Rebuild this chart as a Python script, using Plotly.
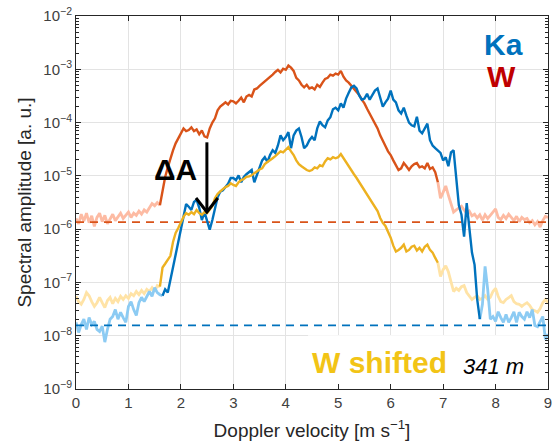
import numpy as np
import plotly.graph_objects as go

# Doppler velocity bins [m/s] (regular spectral grid, 0.05 m/s)
velocity = np.round(np.arange(181) * 0.05, 2)

# log10 of spectral amplitude
w_log10 = [
    -5.80, -5.90, -5.72, -5.85, -5.70, -5.88, -5.75, -5.95, -5.78, -5.70,
    -5.86, -5.74, -5.90, -5.80, -5.72, -5.84, -5.76, -5.70, -5.80, -5.74,
    -5.68, -5.78, -5.70, -5.74, -5.66, -5.72, -5.64, -5.68, -5.60, -5.52,
    -5.56, -5.50, -5.55, -5.27, -5.02, -4.84, -4.67, -4.52, -4.39, -4.30,
    -4.20, -4.11, -4.16, -4.14, -4.09, -4.16, -4.13, -4.22, -4.15, -4.26,
    -4.28, -4.11, -4.00, -3.92, -3.77, -3.70, -3.66, -3.62, -3.66, -3.59,
    -3.60, -3.64, -3.59, -3.53, -3.62, -3.51, -3.48, -3.51, -3.38, -3.36,
    -3.31, -3.27, -3.23, -3.18, -3.14, -3.10, -3.05, -3.01, -3.06, -2.99,
    -3.01, -2.93, -2.97, -3.03, -3.16, -3.21, -3.29, -3.34, -3.29, -3.36,
    -3.34, -3.38, -3.29, -3.33, -3.25, -3.18, -3.16, -3.10, -3.12, -3.08,
    -3.10, -3.03, -3.14, -3.21, -3.25, -3.31, -3.36, -3.42, -3.48, -3.57,
    -3.64, -3.74, -3.83, -3.92, -4.01, -4.11, -4.24, -4.33, -4.44, -4.54,
    -4.61, -4.71, -4.80, -4.89, -4.86, -4.76, -4.82, -4.89, -4.82, -4.78,
    -4.76, -4.84, -4.82, -4.86, -4.76, -4.87, -4.84, -4.93, -5.12, -5.42,
    -5.31, -5.19, -5.36, -5.53, -5.68, -5.64, -5.60, -5.57, -5.64, -5.70,
    -5.66, -5.75, -5.72, -5.79, -5.73, -5.83, -5.73, -5.80, -5.74, -5.68,
    -5.62, -5.78, -5.82, -5.74, -5.80, -5.72, -5.78, -5.84, -5.76, -5.86,
    -5.78, -5.82, -5.80, -5.88, -5.84, -5.92, -5.86, -5.96, -5.84, -5.76,
    -5.78,
]

ka_log10 = [
    -7.75, -7.94, -7.79, -7.69, -7.88, -7.66, -7.79, -7.73, -7.88, -7.92,
    -7.82, -8.12, -7.88, -7.69, -7.64, -7.51, -7.69, -7.56, -7.66, -7.75,
    -7.45, -7.36, -7.51, -7.62, -7.38, -7.28, -7.36, -7.25, -7.17, -7.26,
    -7.10, -7.19, -7.23, -7.25, -7.13, -7.19, -6.95, -6.72, -6.48, -6.26,
    -6.01, -5.77, -5.53, -5.58, -5.64, -5.49, -5.45, -5.60, -5.83, -5.68,
    -5.86, -6.01, -5.83, -5.64, -5.40, -5.30, -5.27, -5.21, -5.15, -5.04,
    -5.04, -5.08, -4.99, -5.12, -5.02, -4.97, -4.93, -4.89, -5.12, -4.99,
    -4.82, -4.71, -4.65, -4.74, -4.61, -4.52, -4.57, -4.43, -4.24, -4.33,
    -4.27, -4.18, -4.48, -4.24, -4.15, -4.11, -4.27, -4.48, -4.43, -4.33,
    -4.27, -4.33, -4.11, -3.98, -4.05, -4.09, -3.96, -3.90, -3.75, -3.72,
    -3.77, -3.64, -3.72, -3.55, -3.44, -3.34, -3.31, -3.36, -3.49, -3.57,
    -3.55, -3.46, -3.57, -3.49, -3.40, -3.36, -3.55, -3.70, -3.62, -3.55,
    -3.40, -3.57, -3.62, -3.77, -3.83, -3.72, -3.87, -4.00, -4.05, -4.07,
    -3.89, -4.15, -4.20, -4.11, -4.02, -4.33, -4.43, -4.48, -4.52, -4.57,
    -4.71, -4.65, -4.82, -4.56, -4.52, -5.08, -5.55, -5.73, -6.14, -5.51,
    -5.92, -6.44, -6.67, -7.32, -7.69, -7.41, -6.70, -7.13, -7.69, -7.64,
    -7.73, -7.55, -7.66, -7.75, -7.60, -7.75, -7.66, -7.55, -7.75, -7.56,
    -7.64, -7.69, -7.55, -7.66, -7.51, -7.81, -7.83, -7.73, -7.64, -8.07,
    -7.97,
]

w_shifted_log10 = [
    -7.26, -7.36, -7.41, -7.32, -7.19, -7.25, -7.36, -7.45, -7.38, -7.28,
    -7.38, -7.47, -7.34, -7.28, -7.40, -7.30, -7.36, -7.26, -7.32, -7.25,
    -7.30, -7.21, -7.25, -7.17, -7.23, -7.15, -7.21, -7.13, -7.17, -7.10,
    -7.17, -7.06, -7.08, -6.72, -6.65, -6.57, -6.50, -6.24, -6.07, -5.98,
    -5.86, -5.77, -5.70, -5.73, -5.68, -5.72, -5.64, -5.70, -5.73, -5.68,
    -5.70, -5.64, -5.57, -5.42, -5.34, -5.29, -5.25, -5.21, -5.19, -5.14,
    -5.17, -5.19, -5.12, -5.08, -5.06, -5.02, -5.01, -4.99, -4.95, -4.91,
    -4.88, -4.86, -4.78, -4.74, -4.71, -4.67, -4.63, -4.58, -4.54, -4.56,
    -4.50, -4.46, -4.54, -4.61, -4.71, -4.78, -4.82, -4.86, -4.89, -4.91,
    -4.89, -4.84, -4.86, -4.80, -4.82, -4.73, -4.67, -4.69, -4.65, -4.67,
    -4.65, -4.59, -4.67, -4.74, -4.82, -4.89, -4.97, -5.04, -5.12, -5.19,
    -5.27, -5.36, -5.43, -5.51, -5.58, -5.66, -5.79, -5.88, -5.94, -6.05,
    -6.16, -6.31, -6.42, -6.39, -6.35, -6.29, -6.42, -6.39, -6.33, -6.31,
    -6.40, -6.35, -6.42, -6.33, -6.29, -6.39, -6.44, -6.54, -6.63, -6.89,
    -6.76, -6.69, -6.80, -7.00, -7.17, -7.11, -7.15, -7.08, -7.06, -7.19,
    -7.26, -7.32, -7.28, -7.25, -7.32, -7.30, -7.25, -7.32, -7.28, -7.17,
    -7.11, -7.26, -7.36, -7.38, -7.32, -7.28, -7.25, -7.36, -7.40, -7.41,
    -7.45, -7.41, -7.38, -7.43, -7.51, -7.53, -7.56, -7.49, -7.38, -7.32,
    -7.38,
]

# noise levels (dashed lines)
w_noise_level = 1.35e-6
ka_noise_level = 1.56e-8

# velocity range where each spectrum is above noise (dark colour)
w_signal = (1.60, 6.90)
ka_signal = (1.65, 7.70)
w_shifted_signal = (1.60, 6.90)

# axis ticks
x_ticks = [0, 1, 2, 3, 4, 5, 6, 7, 8, 9]
y_decades = [1e-9, 1e-8, 1e-7, 1e-6, 1e-5, 1e-4, 1e-3, 1e-2]
y_tick_text = ["10<sup>−9</sup>", "10<sup>−8</sup>", "10<sup>−7</sup>", "10<sup>−6</sup>",
               "10<sup>−5</sup>", "10<sup>−4</sup>", "10<sup>−3</sup>", "10<sup>−2</sup>"]
y_minor = [m * d for d in y_decades[:-1] for m in range(2, 10)]

C_KA, C_KA_L = "#0072BD", "#8CCBF3"
C_W, C_W_L = "#D95319", "#FDBBA3"
C_Y, C_Y_L = "#EDB120", "#FFE3A6"

fig = go.Figure()


def add_series(vals_log, sig, dark, light):
    y = 10.0 ** np.array(vals_log)
    v = velocity
    left = v <= sig[0] + 1e-9
    right = v >= sig[1] - 1e-9
    mid = (v >= sig[0] - 1e-9) & (v <= sig[1] + 1e-9)
    fig.add_trace(go.Scatter(x=v[left], y=y[left], mode="lines",
                             line=dict(color=light, width=2.8), hoverinfo="skip"))
    fig.add_trace(go.Scatter(x=v[right], y=y[right], mode="lines",
                             line=dict(color=light, width=2.8), hoverinfo="skip"))
    return v[mid], y[mid], dark


# light (noise) segments first
segs = [
    add_series(w_log10, w_signal, C_W, C_W_L),
    add_series(w_shifted_log10, w_shifted_signal, C_Y, C_Y_L),
    add_series(ka_log10, ka_signal, C_KA, C_KA_L),
]

# dashed noise levels
fig.add_trace(go.Scatter(x=[0, 9], y=[w_noise_level, w_noise_level], mode="lines",
                         line=dict(color=C_W, width=1.8, dash="8px,6px")))
fig.add_trace(go.Scatter(x=[0, 9], y=[ka_noise_level, ka_noise_level], mode="lines",
                         line=dict(color=C_KA, width=1.8, dash="8px,6px")))

# dark signal segments
for vx, vy, col in [segs[0], segs[2], segs[1]]:
    fig.add_trace(go.Scatter(x=vx, y=vy, mode="lines",
                             line=dict(color=col, width=2.4), hoverinfo="skip"))

# invisible trace so the minor-tick overlay axis is drawn
fig.add_trace(go.Scatter(x=[0, 9], y=[w_noise_level, w_noise_level], yaxis="y2",
                         mode="lines", line=dict(width=0), opacity=0, hoverinfo="skip"))

L, R, T, B = 76, 552, 15, 390
W_, H_ = R - L, B - T


def px(x):
    return (x - L) / W_


def py(y):
    return (B - y) / H_


FONT = "Liberation Sans, Arial, sans-serif"

axis_common = dict(
    showline=True, linecolor="#262626", linewidth=1, mirror="ticks",
    ticks="inside", ticklen=5, tickcolor="#262626",
    showgrid=True, gridcolor="#E3E3E3", gridwidth=1, zeroline=False,
    tickfont=dict(size=15, color="#404040", family=FONT),
)

fig.update_layout(
    width=557, height=442,
    margin=dict(l=L, r=557 - R, t=T, b=442 - B),
    paper_bgcolor="white", plot_bgcolor="white",
    showlegend=False,
    font=dict(family=FONT, color="#262626"),
    xaxis=dict(range=[0, 9], tickmode="array", tickvals=x_ticks,
               title=dict(text="Doppler velocity [m s<sup>−1</sup>]",
                          font=dict(size=19, color="#262626"), standoff=13),
               **axis_common),
    yaxis=dict(type="log", range=[-9, -2], tickmode="array", tickvals=y_decades,
               ticktext=y_tick_text,
               title=dict(text="Spectral amplitude [a. u.]",
                          font=dict(size=19, color="#262626"), standoff=6),
               **axis_common),
    yaxis2=dict(type="log", range=[-9, -2], overlaying="y", side="left",
                tickmode="array", tickvals=y_minor, showticklabels=False,
                ticks="inside", ticklen=3, tickcolor="#262626", mirror="ticks",
                showline=False, showgrid=False, zeroline=False),
)

# white box behind the "W shifted" label
fig.add_shape(type="rect", xref="paper", yref="paper",
              x0=px(310), x1=px(546), y0=py(385), y1=py(336),
              fillcolor="white", line=dict(width=0), layer="above")

# arrow for ΔA
fig.add_shape(type="line", xref="paper", yref="paper",
              x0=px(208), x1=px(208), y0=py(142), y1=py(210),
              line=dict(color="black", width=3), layer="above")
fig.add_shape(type="path", xref="paper", yref="paper",
              path=f"M {px(197)},{py(198)} L {px(208)},{py(212)} L {px(219)},{py(198)}",
              line=dict(color="black", width=3), layer="above")

ann = [
    dict(text="<b>Ka</b>", x=px(507), y=py(44), color=C_KA, size=30),
    dict(text="<b>W</b>", x=px(505), y=py(76), color="#C00000", size=30),
    dict(text="<b>ΔA</b>", x=px(176), y=py(169), color="black", size=30),
    dict(text="<b>W shifted</b>", x=px(382), y=py(363), color="#F2C416", size=30),
    dict(text="<i>341 m</i>", x=px(497), y=py(367), color="black", size=22),
]
for a in ann:
    fig.add_annotation(text=a["text"], x=a["x"], y=a["y"], xref="paper", yref="paper",
                       showarrow=False, xanchor="center", yanchor="middle",
                       font=dict(size=a["size"], color=a["color"], family=FONT))

fig.write_html("out.html")
